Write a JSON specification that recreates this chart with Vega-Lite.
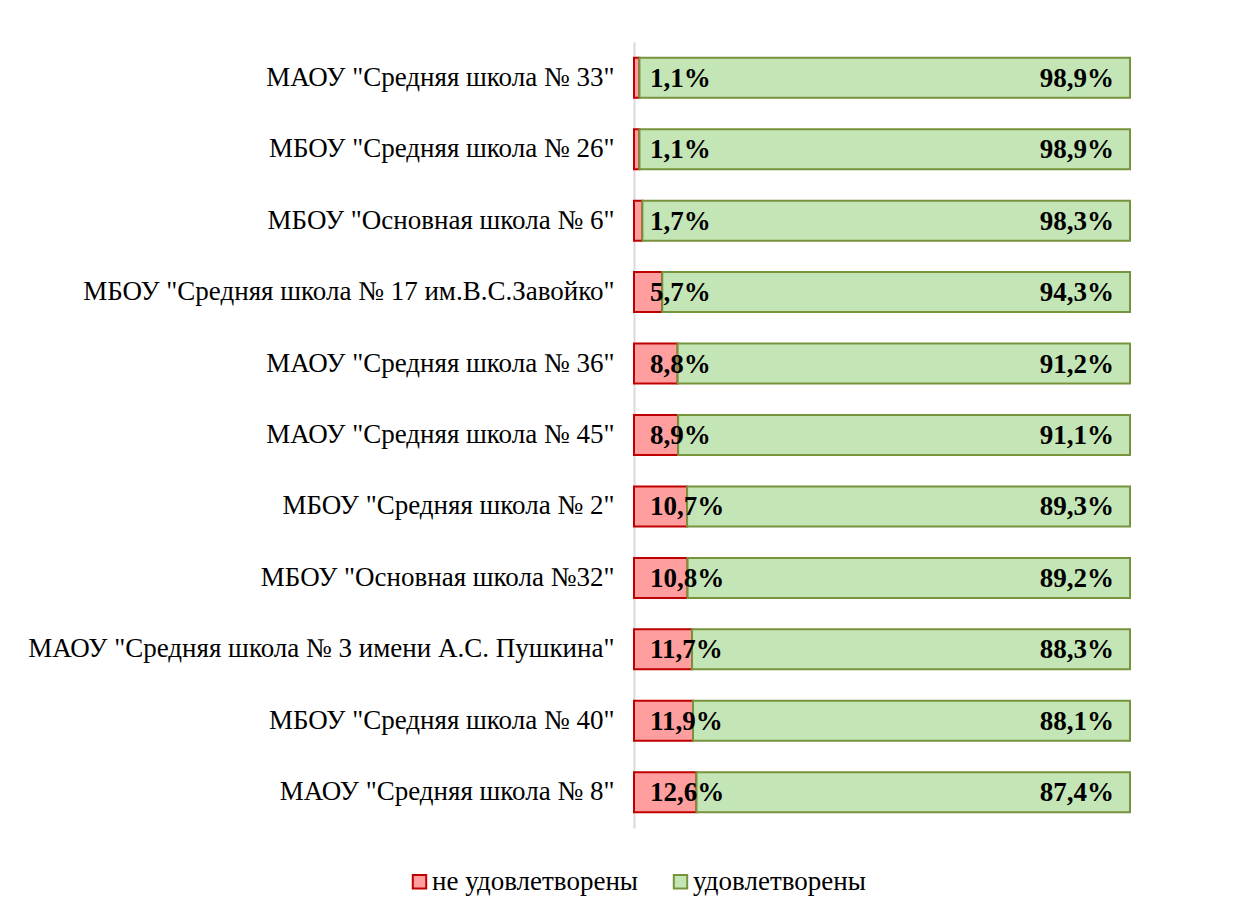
{
  "$schema": "https://vega.github.io/schema/vega-lite/v6.json",
  "autosize": {"type": "none"},
  "width": 496,
  "height": 786,
  "padding": {"left": 634, "top": 42, "right": 118, "bottom": 83},
  "background": "white",
  "config": {
    "view": {"stroke": null},
    "font": "Liberation Serif"
  },
  "data": {
    "values": [
      {"school": "МАОУ \"Средняя школа № 33\"", "group": "не удовлетворены", "value": 1.1},
      {"school": "МАОУ \"Средняя школа № 33\"", "group": "удовлетворены", "value": 98.9},
      {"school": "МБОУ \"Средняя школа № 26\"", "group": "не удовлетворены", "value": 1.1},
      {"school": "МБОУ \"Средняя школа № 26\"", "group": "удовлетворены", "value": 98.9},
      {"school": "МБОУ \"Основная школа № 6\"", "group": "не удовлетворены", "value": 1.7},
      {"school": "МБОУ \"Основная школа № 6\"", "group": "удовлетворены", "value": 98.3},
      {"school": "МБОУ \"Средняя школа № 17 им.В.С.Завойко\"", "group": "не удовлетворены", "value": 5.7},
      {"school": "МБОУ \"Средняя школа № 17 им.В.С.Завойко\"", "group": "удовлетворены", "value": 94.3},
      {"school": "МАОУ \"Средняя школа № 36\"", "group": "не удовлетворены", "value": 8.8},
      {"school": "МАОУ \"Средняя школа № 36\"", "group": "удовлетворены", "value": 91.2},
      {"school": "МАОУ \"Средняя школа № 45\"", "group": "не удовлетворены", "value": 8.9},
      {"school": "МАОУ \"Средняя школа № 45\"", "group": "удовлетворены", "value": 91.1},
      {"school": "МБОУ \"Средняя школа № 2\"", "group": "не удовлетворены", "value": 10.7},
      {"school": "МБОУ \"Средняя школа № 2\"", "group": "удовлетворены", "value": 89.3},
      {"school": "МБОУ \"Основная школа №32\"", "group": "не удовлетворены", "value": 10.8},
      {"school": "МБОУ \"Основная школа №32\"", "group": "удовлетворены", "value": 89.2},
      {"school": "МАОУ \"Средняя школа № 3 имени А.С. Пушкина\"", "group": "не удовлетворены", "value": 11.7},
      {"school": "МАОУ \"Средняя школа № 3 имени А.С. Пушкина\"", "group": "удовлетворены", "value": 88.3},
      {"school": "МБОУ \"Средняя школа № 40\"", "group": "не удовлетворены", "value": 11.9},
      {"school": "МБОУ \"Средняя школа № 40\"", "group": "удовлетворены", "value": 88.1},
      {"school": "МАОУ \"Средняя школа № 8\"", "group": "не удовлетворены", "value": 12.6},
      {"school": "МАОУ \"Средняя школа № 8\"", "group": "удовлетворены", "value": 87.4}
    ]
  },
  "transform": [
    {"calculate": "replace(format(datum.value, '.1f'), '.', ',') + '%'", "as": "label"}
  ],
  "encoding": {
    "y": {
      "field": "school",
      "type": "nominal",
      "sort": null,
      "scale": {"paddingInner": 0.44, "paddingOuter": 0.22},
      "axis": {
        "title": null,
        "ticks": false,
        "domain": true,
        "domainColor": "#d9d9d9",
        "domainWidth": 2,
        "labelPadding": 20,
        "labelFontSize": 27,
        "labelFont": "Liberation Serif",
        "labelColor": "#000000",
        "labelLimit": 700
      }
    }
  },
  "layer": [
    {
      "mark": {"type": "bar", "strokeWidth": 2},
      "encoding": {
        "x": {
          "field": "value",
          "type": "quantitative",
          "stack": "zero",
          "scale": {"domain": [0, 100], "nice": false},
          "axis": null
        },
        "fill": {
          "field": "group",
          "type": "nominal",
          "scale": {"domain": ["не удовлетворены", "удовлетворены"], "range": ["#ff9e9e", "#c4e6b6"]},
          "legend": {
            "title": null,
            "orient": "none",
            "direction": "horizontal",
            "legendX": -228,
            "legendY": 826,
            "symbolType": "square",
            "symbolSize": 180,
            "symbolStrokeWidth": 2,
            "labelFontSize": 27,
            "labelFont": "Liberation Serif",
            "labelColor": "#000000",
            "labelOffset": -1,
            "labelLimit": 400,
            "columnPadding": 28
          }
        },
        "stroke": {
          "field": "group",
          "type": "nominal",
          "scale": {"domain": ["не удовлетворены", "удовлетворены"], "range": ["#c00000", "#77933c"]},
          "legend": {
            "title": null,
            "orient": "none",
            "direction": "horizontal",
            "legendX": -228,
            "legendY": 826,
            "symbolType": "square",
            "symbolSize": 180,
            "symbolStrokeWidth": 2,
            "labelFontSize": 27,
            "labelFont": "Liberation Serif",
            "labelColor": "#000000",
            "labelOffset": -1,
            "labelLimit": 400,
            "columnPadding": 28
          }
        }
      }
    },
    {
      "transform": [{"filter": "datum.group === 'не удовлетворены'"}],
      "mark": {"type": "text", "align": "left", "baseline": "middle", "dx": 16, "dy": 1, "fontSize": 27, "fontWeight": "bold", "font": "Liberation Serif", "color": "#000000"},
      "encoding": {
        "x": {"datum": 0, "type": "quantitative"},
        "text": {"field": "label"}
      }
    },
    {
      "transform": [{"filter": "datum.group === 'удовлетворены'"}],
      "mark": {"type": "text", "align": "right", "baseline": "middle", "dx": -16, "dy": 1, "fontSize": 27, "fontWeight": "bold", "font": "Liberation Serif", "color": "#000000"},
      "encoding": {
        "x": {"datum": 100, "type": "quantitative"},
        "text": {"field": "label"}
      }
    }
  ]
}
